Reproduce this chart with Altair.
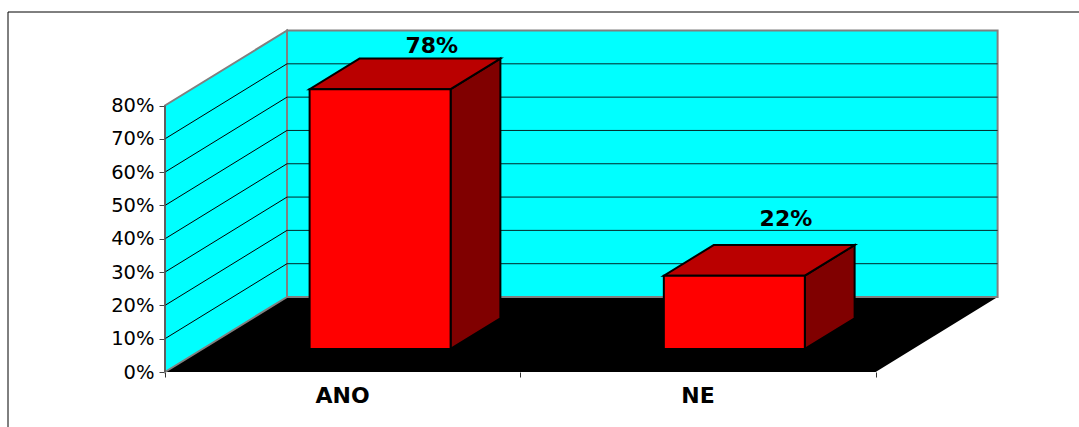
import altair as alt
import pandas as pd

# Chart content
categories = ["ANO", "NE"]
values = [78, 22]
percent_ticks = [0, 10, 20, 30, 40, 50, 60, 70, 80]

# Oblique projection: x is measured in category widths, y in percent.
CAT_PX = 355.3
PCT_PX = 266.5 / 80
DEPTH_DX = 122 / CAT_PX
DEPTH_DY = 75 / PCT_PX
X_MAX = 832 / CAT_PX
Y_MAX = 341 / PCT_PX
BAR_CENTRES = [0.5, 1.497]
BAR_HALF = 70.5 / CAT_PX
BAR_NEAR, BAR_FAR = 0.307, 0.715
LABEL_LIFT = [-1, -14]
WALL_TOP = percent_ticks[-1]
N_CATS = len(categories)
TEXT_FONT = "DejaVu Sans"


def px(u, d=0.0):
    return u + d * DEPTH_DX


def py(p, d=0.0):
    return p + d * DEPTH_DY


x_scale = alt.Scale(domain=[0, X_MAX], range=[0, 832], nice=False, zero=False)
y_scale = alt.Scale(domain=[0, Y_MAX], range=[341, 0], nice=False, zero=False)

# Every layer carries the same axis definitions so they merge into one pair
x_axis = alt.Axis(
    values=list(range(N_CATS + 1)), labels=False, title=None, domain=False, grid=False,
    tickColor="#333333", tickSize=5, tickWidth=1,
)
y_axis = alt.Axis(
    values=percent_ticks, labelExpr="datum.value + '%'", title=None, domain=False, grid=False,
    tickColor="#444444", tickSize=6, tickWidth=1, labelFont=TEXT_FONT, labelFontSize=19.5,
    labelColor="#000000", labelPadding=5,
)
X = alt.X("x:Q", scale=x_scale, axis=x_axis)
Y = alt.Y("y:Q", scale=y_scale, axis=y_axis)
X2 = alt.X2("x2:Q")
Y2 = alt.Y2("y2:Q")

# Left wall, back wall and floor
left_wall = alt.Chart(pd.DataFrame({
    "x": [px(0, 0), px(0, 1)],
    "y": [py(0, 0), py(0, 1)],
    "y2": [py(WALL_TOP, 0), py(WALL_TOP, 1)],
})).mark_area(orient="vertical", color="#00FFFF", stroke="#808080", strokeWidth=2, opacity=1).encode(x=X, y=Y, y2=Y2)

back_wall = alt.Chart(pd.DataFrame({
    "x": [px(0, 1)], "x2": [px(N_CATS, 1)],
    "y": [py(0, 1)], "y2": [py(WALL_TOP, 1)],
})).mark_rect(color="#00FFFF", stroke="#808080", strokeWidth=2).encode(x=X, x2=X2, y=Y, y2=Y2)

floor = alt.Chart(pd.DataFrame({
    "y": [py(0, 0), py(0, 1)],
    "x": [px(0, 0), px(0, 1)],
    "x2": [px(N_CATS, 0), px(N_CATS, 1)],
})).mark_area(orient="horizontal", color="#000000", opacity=1).encode(x=X, x2=X2, y=Y)

# Gridlines run along the left wall, then across the back wall
inner_ticks = percent_ticks[1:-1]
grid_side = alt.Chart(pd.DataFrame({
    "x": [px(0, 0)] * len(inner_ticks), "x2": [px(0, 1)] * len(inner_ticks),
    "y": [py(t, 0) for t in inner_ticks], "y2": [py(t, 1) for t in inner_ticks],
})).mark_rule(color="#000000", strokeWidth=1).encode(x=X, x2=X2, y=Y, y2=Y2)

grid_back = alt.Chart(pd.DataFrame({
    "x": [px(0, 1)] * len(inner_ticks), "x2": [px(N_CATS, 1)] * len(inner_ticks),
    "y": [py(t, 1) for t in inner_ticks],
})).mark_rule(color="#002828", strokeWidth=1).encode(x=X, x2=X2, y=Y)

# Front-left edge of the percent scale
axis_line = alt.Chart(pd.DataFrame({"x": [0.0], "y": [0.0], "y2": [float(WALL_TOP)]})).mark_rule(
    color="#555555", strokeWidth=1.5
).encode(x=X, y=Y, y2=Y2)

category_labels = alt.Chart(pd.DataFrame({
    "x": [i + 0.5 for i in range(N_CATS)], "y": [0.0] * N_CATS, "t": categories,
})).mark_text(font=TEXT_FONT, fontWeight="bold", fontSize=22, color="#000000", dy=36, baseline="bottom", align="center").encode(
    x=X, y=Y, text="t:N"
)

# Bars: side face, top face, front face, then the value label
layers = [floor, left_wall, back_wall, grid_side, grid_back]
for c, v, lift in zip(BAR_CENTRES, values, LABEL_LIFT):
    l, r = c - BAR_HALF, c + BAR_HALF
    side = alt.Chart(pd.DataFrame({
        "x": [px(r, BAR_NEAR), px(r, BAR_FAR)],
        "y": [py(0, BAR_NEAR), py(0, BAR_FAR)],
        "y2": [py(v, BAR_NEAR), py(v, BAR_FAR)],
    })).mark_area(orient="vertical", color="#800000", stroke="#000000", strokeWidth=2, opacity=1).encode(x=X, y=Y, y2=Y2)
    top = alt.Chart(pd.DataFrame({
        "y": [py(v, BAR_NEAR), py(v, BAR_FAR)],
        "x": [px(l, BAR_NEAR), px(l, BAR_FAR)],
        "x2": [px(r, BAR_NEAR), px(r, BAR_FAR)],
    })).mark_area(orient="horizontal", color="#BA0000", stroke="#000000", strokeWidth=2, opacity=1).encode(x=X, x2=X2, y=Y)
    front = alt.Chart(pd.DataFrame({
        "x": [px(l, BAR_NEAR)], "x2": [px(r, BAR_NEAR)],
        "y": [py(0, BAR_NEAR)], "y2": [py(v, BAR_NEAR)],
    })).mark_rect(color="#FF0000", stroke="#000000", strokeWidth=2).encode(x=X, x2=X2, y=Y, y2=Y2)
    label = alt.Chart(pd.DataFrame({
        "x": [px(c, 0.73)], "y": [py(v, BAR_FAR)], "t": [f"{v}%"],
    })).mark_text(font=TEXT_FONT, fontWeight="bold", fontSize=22, color="#000000", dy=lift, baseline="bottom", align="center").encode(
        x=X, y=Y, text="t:N"
    )
    layers += [side, top, front, label]

# Thin page frame, open towards the right and bottom edges
frame_top = alt.Chart(pd.DataFrame({"a": [0]})).mark_rule(color="#000000", strokeWidth=1).encode(
    x=alt.value(-157), x2=alt.value(914), y=alt.value(-19)
)
frame_left = alt.Chart(pd.DataFrame({"a": [0]})).mark_rule(color="#000000", strokeWidth=1).encode(
    y=alt.value(-19), y2=alt.value(396), x=alt.value(-157)
)
layers += [axis_line, category_labels, frame_top, frame_left]

chart = alt.layer(*layers).properties(
    width=832,
    height=341,
    padding={"left": 165, "top": 31, "right": 82, "bottom": 55},
    autosize=alt.AutoSizeParams(type="none"),
    background="#FFFFFF",
).configure_view(stroke=None)

chart.save("out.html", embed_options={"renderer": "svg", "actions": False})
